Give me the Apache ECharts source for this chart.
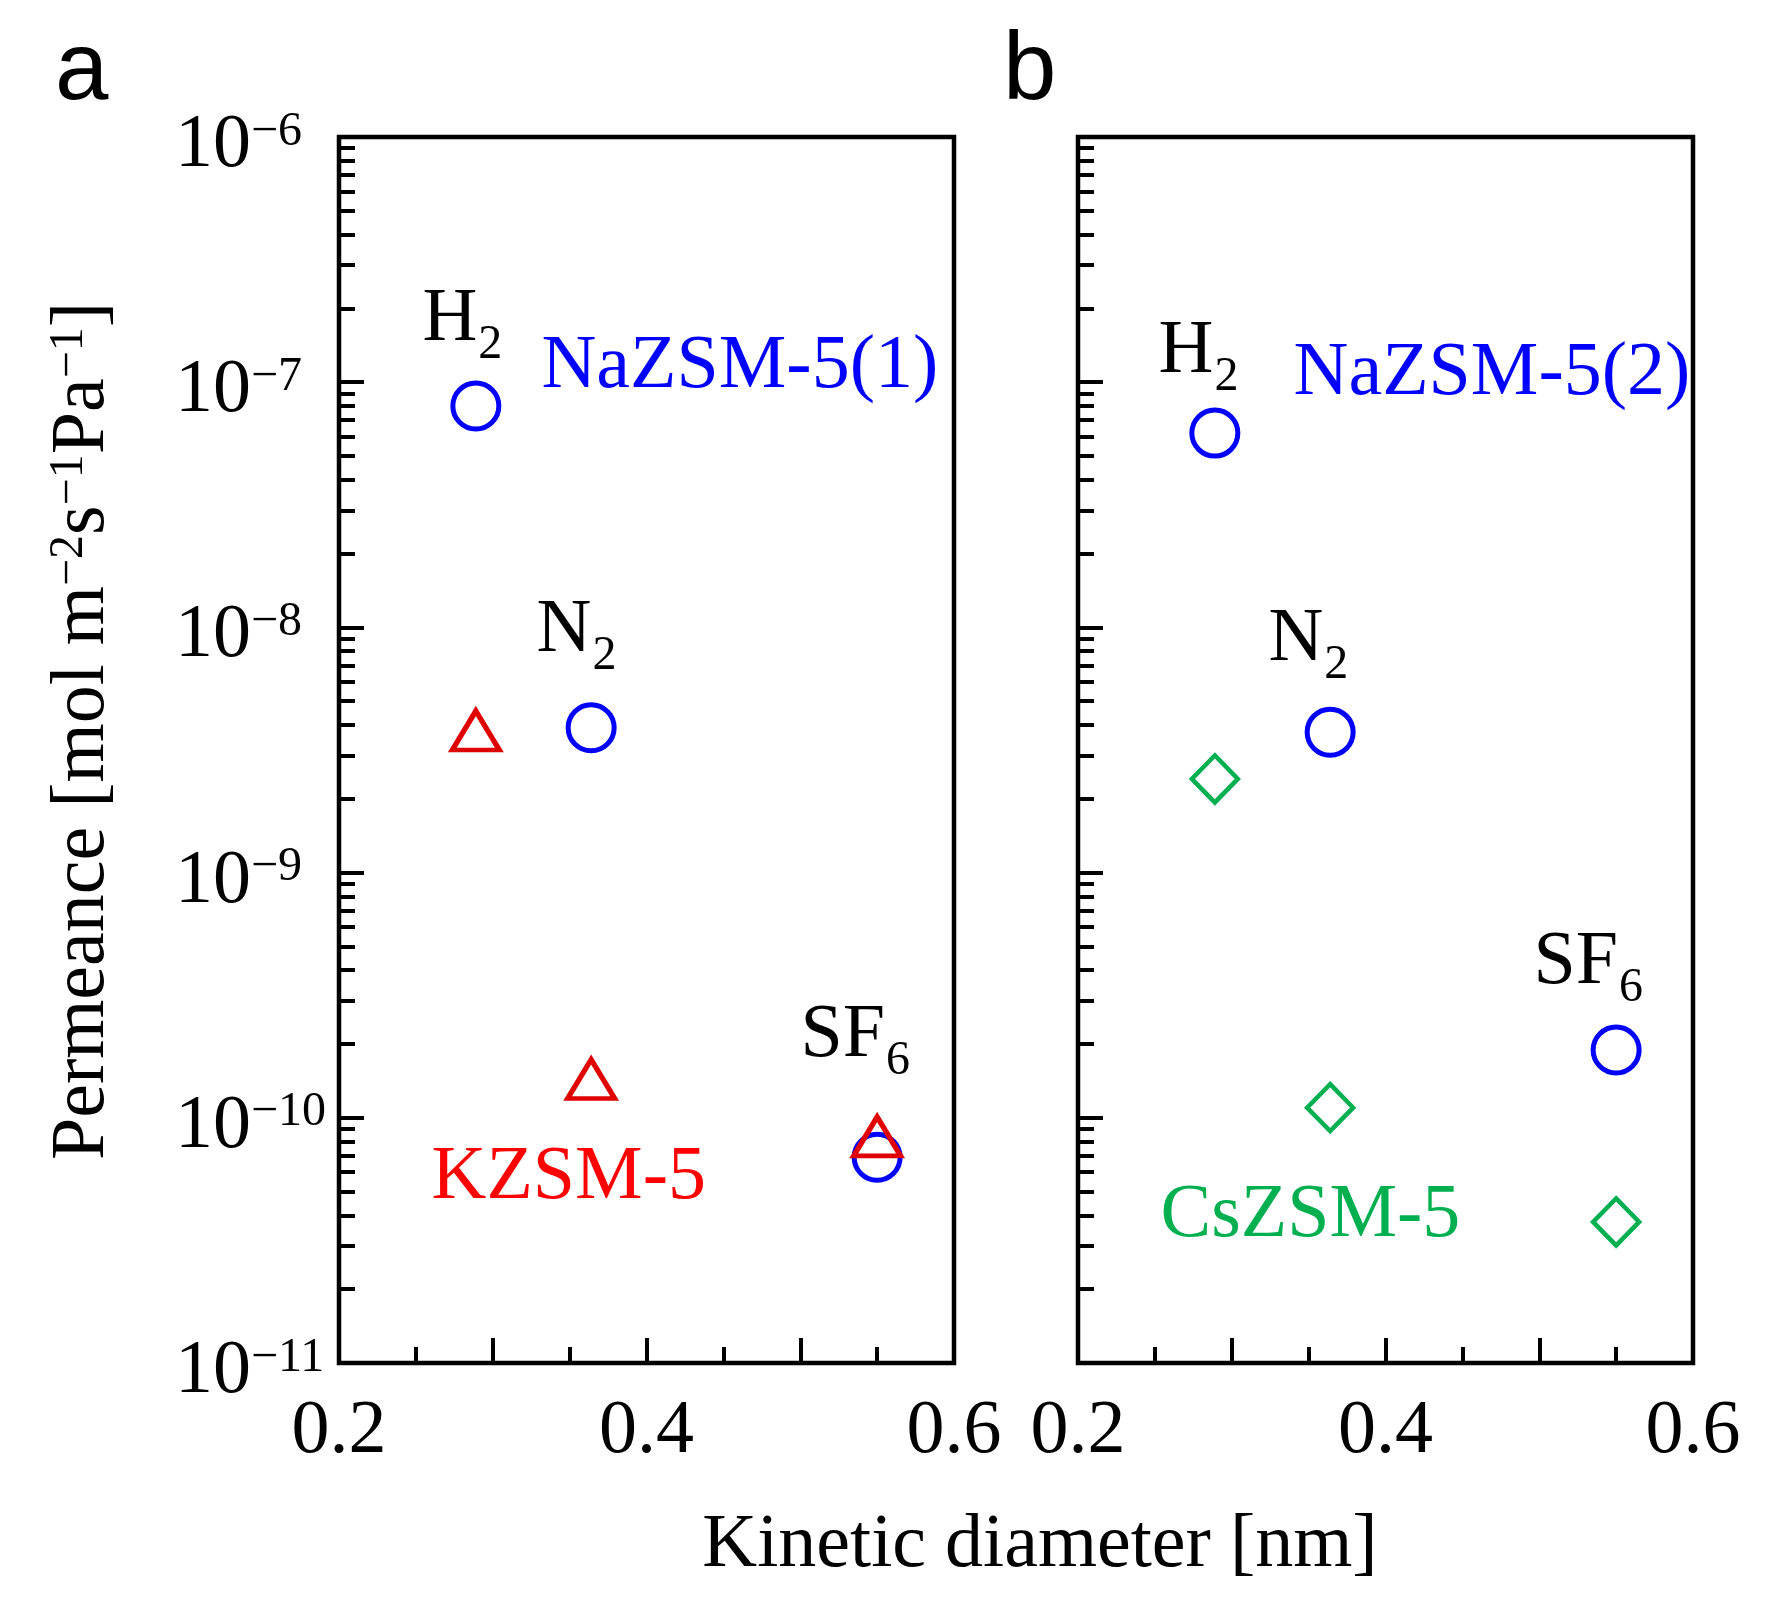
<!DOCTYPE html>
<html>
<head>
<meta charset="utf-8">
<script src="https://cdn.jsdelivr.net/npm/echarts@6/dist/echarts.min.js"></script>
<style>
html,body{margin:0;padding:0;background:#fff;}
#chart{width:1779px;height:1611px;}
</style>
</head>
<body>
<div id="chart"></div>
<script>
// ---------- data ----------
const gases = ['H2', 'N2', 'SF6'];
const kineticDiameter = [0.289, 0.364, 0.55];          // nm
const naZSM5_1 = [8.0e-8, 3.9e-9, 6.9e-11];            // panel a, circles
const kZSM5    = [3.8e-9, 1.44e-10, 8.4e-11];          // panel a, triangles
const naZSM5_2 = [6.2e-8, 3.74e-9, 1.89e-10];          // panel b, circles
const csZSM5   = [2.41e-9, 1.10e-10, 3.76e-11];        // panel b, diamonds

const xTickLabels = [0.2, 0.4, 0.6];
const yTickExponents = [-11, -10, -9, -8, -7, -6];
const yMinorMultipliers = [2, 3, 4, 5, 6, 7, 8, 9];

// annotation texts and their anchors (data coordinates: left edge / baseline)
const annoTextsA = ['{b|H}{s|2}', '{b|N}{s|2}', '{b|SF}{s|6}', '{c|NaZSM-5(1)}', '{r|KZSM-5}'];
const annoXA = [0.2546, 0.3288, 0.5005, 0.3320, 0.2605];
const annoYA = [1.392e-7, 7.50e-9, 1.673e-10, 8.95e-8, 4.41e-11];
const annoTextsB = ['{b|H}{s|2}', '{b|N}{s|2}', '{b|SF}{s|6}', '{c|NaZSM-5(2)}', '{g|CsZSM-5}'];
const annoXB = [0.2527, 0.3242, 0.4966, 0.3405, 0.2540];
const annoYB = [1.031e-7, 6.90e-9, 3.32e-10, 8.38e-8, 3.11e-11];

// ---------- styles ----------
const SERIF = '"Liberation Serif", "Times New Roman", serif';
const SANS = '"Liberation Sans", Arial, sans-serif';
const BLUE = '#0000ff', RED_MARK = '#e00000', RED_TEXT = '#ff0000', GREEN = '#00b050';

const minorVals = [];
yTickExponents.slice(0, -1).forEach(e => yMinorMultipliers.forEach(m => minorVals.push(+(m * Math.pow(10, e)).toPrecision(3))));

const grids = [
  {left: 339, top: 137, width: 615, height: 1226},
  {left: 1078, top: 137, width: 615, height: 1226}
].map(g => Object.assign(g, {show: true, borderColor: '#000', borderWidth: 4.5, backgroundColor: 'transparent', outerBoundsMode: 'none'}));

const tickLine = {color: '#000', width: 4};

function makeX(i) {
  return {
    gridIndex: i, type: 'value', min: 0.2, max: 0.6, interval: 0.1,
    axisLine: {show: false},
    axisTick: {show: true, inside: true, length: 25, lineStyle: tickLine},
    minorTick: {show: true, splitNumber: 2, length: 16, lineStyle: tickLine},
    splitLine: {show: false}, minorSplitLine: {show: false},
    axisLabel: {
      show: true, customValues: xTickLabels, margin: 31,
      fontSize: 76, fontFamily: SERIF, color: '#000',
      formatter: v => Number(v).toFixed(1)
    }
  };
}

const supRich = {
  b: {fontSize: 76, lineHeight: 76, fontFamily: SERIF, color: '#000', verticalAlign: 'top'},
  s: {fontSize: 48, lineHeight: 47, fontFamily: SERIF, color: '#000', verticalAlign: 'top'}
};

function makeYMain(i) {
  const ax = {
    gridIndex: i, type: 'log', logBase: 10, min: 1e-11, max: 1e-6, position: 'left',
    axisLine: {show: false},
    axisTick: {show: true, inside: true, length: 25, lineStyle: tickLine},
    splitLine: {show: false},
    axisLabel: {show: false}
  };
  if (i === 0) {
    ax.axisLabel = {
      show: true, align: 'left', margin: 164, padding: [18, 0, 0, 0],
      formatter: v => '{b|10}{s|\u2212' + Math.abs(Math.round(Math.log10(v))) + '}',
      rich: supRich
    };
    ax.name = '{b|Permeance [mol m}{s|\u22122}{b|s}{s|\u22121}{b|Pa}{s|\u22121}{b|]}';
    ax.nameLocation = 'middle';
    ax.nameGap = 218;
    ax.nameTextStyle = {rich: supRich, padding: [0, 0, 0, 38]};
  }
  return ax;
}

function makeYMinor(i) {
  return {
    gridIndex: i, type: 'log', logBase: 10, min: 1e-11, max: 1e-6, position: 'left',
    axisLine: {show: false},
    axisTick: {show: true, inside: true, length: 16, customValues: minorVals, lineStyle: tickLine},
    splitLine: {show: false},
    axisLabel: {show: false}
  };
}

function pts(xs, ys) { return xs.map((x, k) => [x, ys[k]]); }

const subRich = {
  b: {fontSize: 76, lineHeight: 76, fontFamily: SERIF, color: '#000', verticalAlign: 'top'},
  s: {fontSize: 48, fontFamily: SERIF, color: '#000', verticalAlign: 'top', padding: [39, 0, 0, 1]},
  c: {fontSize: 76, lineHeight: 76, fontFamily: SERIF, color: BLUE, verticalAlign: 'top'},
  r: {fontSize: 76, lineHeight: 76, fontFamily: SERIF, color: RED_TEXT, verticalAlign: 'top'},
  g: {fontSize: 76, lineHeight: 76, fontFamily: SERIF, color: GREEN, verticalAlign: 'top'}
};

function annoSeries(i, xs, ys, texts) {
  return {
    type: 'scatter', xAxisIndex: i, yAxisIndex: i * 2, symbolSize: 1,
    itemStyle: {color: 'transparent', opacity: 1}, silent: true, z: 5,
    data: xs.map((x, k) => ({value: [x, ys[k]], label: {formatter: texts[k]}})),
    label: {show: true, position: [0, -64], align: 'left', verticalAlign: 'top', rich: subRich, opacity: 1}
  };
}

function markSeries(i, name, ys, symbol, size, color, bw) {
  return {
    name, type: 'scatter', xAxisIndex: i, yAxisIndex: i * 2,
    symbol, symbolSize: size,
    itemStyle: {color: 'transparent', borderColor: color, borderWidth: bw, opacity: 1},
    data: pts(kineticDiameter, ys), z: 3
  };
}

const option = {
  backgroundColor: '#fff',
  animation: false,
  grid: grids,
  xAxis: [makeX(0), makeX(1)],
  yAxis: [makeYMain(0), makeYMinor(0), makeYMain(1), makeYMinor(1)],
  series: [
    markSeries(0, 'NaZSM-5(1)', naZSM5_1, 'circle', 46, BLUE, 5),
    markSeries(0, 'KZSM-5', kZSM5, 'triangle', [47, 39], RED_MARK, 5),
    markSeries(1, 'NaZSM-5(2)', naZSM5_2, 'circle', 46, BLUE, 5),
    markSeries(1, 'CsZSM-5', csZSM5, 'diamond', [46, 47], GREEN, 4.5),
    annoSeries(0, annoXA, annoYA, annoTextsA),
    annoSeries(1, annoXB, annoYB, annoTextsB)
  ],
  graphic: [
    {type: 'text', x: 55, y: 73, style: {text: 'a', fontSize: 96, fontFamily: SANS, fill: '#000', align: 'left', verticalAlign: 'middle'}},
    {type: 'text', x: 1003, y: 73, style: {text: 'b', fontSize: 96, fontFamily: SANS, fill: '#000', align: 'left', verticalAlign: 'middle'}},
    {type: 'text', x: 1040, y: 1546, style: {text: 'Kinetic diameter [nm]', fontSize: 76, fontFamily: SERIF, fill: '#000', align: 'center', verticalAlign: 'middle'}}
  ]
};

const chart = echarts.init(document.getElementById('chart'), null, {renderer: 'canvas'});
chart.setOption(option);
</script>
</body>
</html>
